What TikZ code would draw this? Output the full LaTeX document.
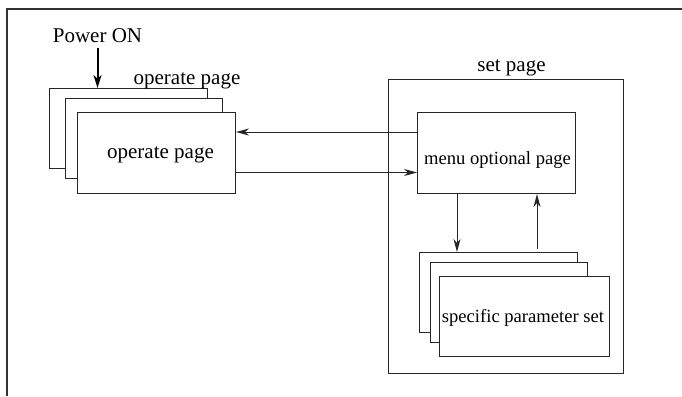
\documentclass[tikz,border=0pt]{standalone}
\usepackage{fontspec}
\setmainfont{Liberation Serif}
\usetikzlibrary{arrows.meta}
\begin{document}
\begin{tikzpicture}[x=1pt,y=-1pt,
  frame/.style={line width=1.6pt,draw=black!80},
  box/.style={draw=black!85,line width=1pt,fill=white,rectangle,inner sep=0pt,anchor=north west},
  big/.style={font=\fontsize{21}{24}\selectfont,inner sep=0pt,anchor=base},
  small/.style={font=\fontsize{18.6}{22}\selectfont,inner sep=0pt,anchor=base},
  arr/.style={draw=black!85,line width=1pt,-{Stealth[length=13pt,width=7pt,inset=4pt]}},
  thickarr/.style={draw=black,line width=2pt,-{Stealth[length=13pt,width=8pt,inset=4pt]}}]
\useasboundingbox (0,0) rectangle (682,396);
% frame
\draw[frame] (7,396) -- (7,9) -- (682,9);
% operate page stack
\node[box,minimum width=158pt,minimum height=80pt] (op1) at (49,88) {};
\node[box,minimum width=157pt,minimum height=80pt] (op2) at (65,98) {};
\node[box,minimum width=158pt,minimum height=81pt] (op3) at (77,112) {};
\node[big] (opt) at (160.5,158) {operate page};
\node[big] (oplabel) at (187,84) {operate page};
\node[big] (pw) at (97.5,43) {Power ON};
\draw[thickarr] (pw.south |- 0,48) -- (pw.south |- op1.north);
% set page
\node[box,minimum width=235pt,minimum height=294pt] (set) at (388,79) {};
\node[big] (setlabel) at (511.5,71) {set page};
\node[box,minimum width=158pt,minimum height=81pt] (menu) at (417,112) {};
\node[small] (menut) at (497.5,164) {menu optional page};
% specific stack
\node[box,minimum width=158pt,minimum height=80pt] (sp1) at (419,252) {};
\node[box,minimum width=157pt,minimum height=80pt] (sp2) at (430,262) {};
\node[box,minimum width=170pt,minimum height=80pt] (sp3) at (439,276) {};
\node[small] (spt) at (523,322) {specific parameter set};
% connectors
\draw[arr] (menu.west |- 0,132) -- (op3.east |- 0,132);
\draw[arr] (op3.east |- 0,172.5) -- (menu.west |- 0,172.5);
\draw[arr] (menu.south -| 457,0) -- (sp1.north -| 457,0);
\draw[arr] (sp1.north -| 537,0) ++(0,-3) -- (menu.south -| 537,0);
\end{tikzpicture}
\end{document}
